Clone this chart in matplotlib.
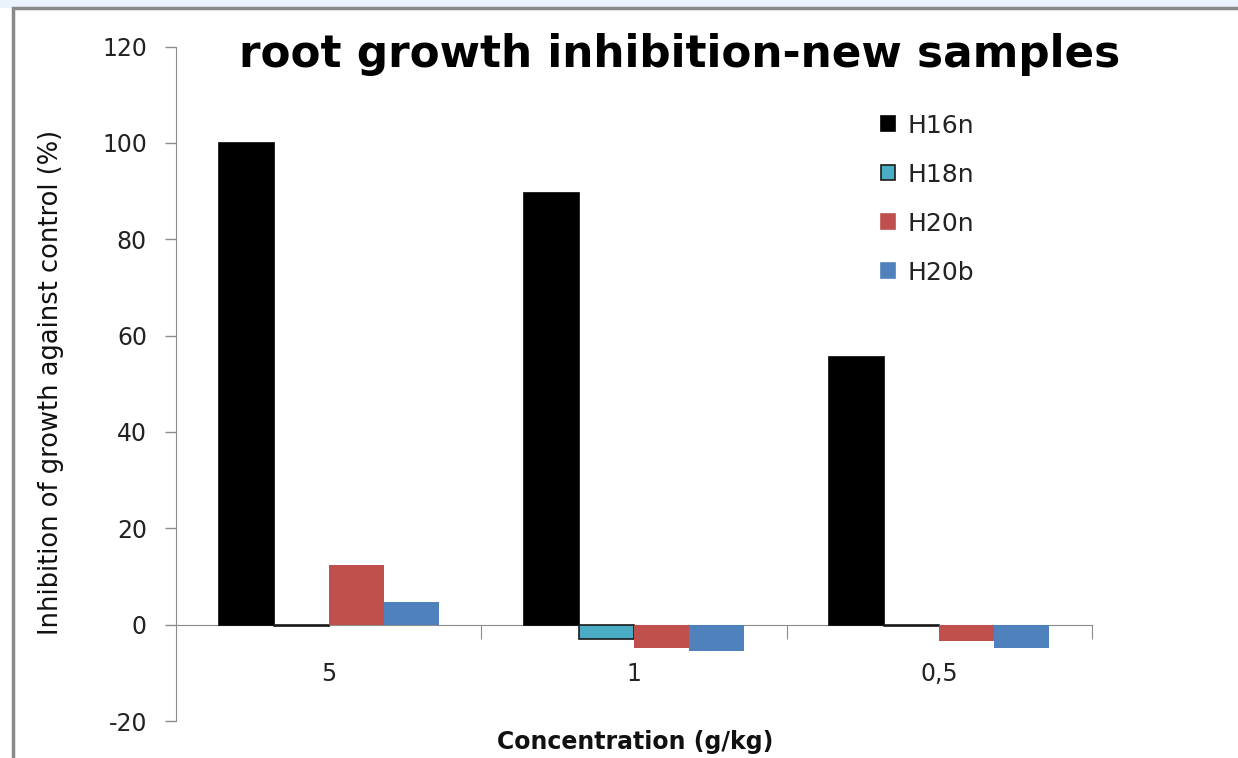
import numpy as np
import matplotlib
matplotlib.use("Agg")
import matplotlib.pyplot as plt
from matplotlib.patches import Rectangle, Patch

plt.rcParams['font.family'] = ['DejaVu Sans']

categories = ['5', '1', '0,5']
series = ['H16n', 'H18n', 'H20n', 'H20b']
h16n = [100.0, 89.5, 55.5]
h18n = [-0.3, -2.9, -0.3]
h20n = [12.4, -4.8, -3.3]
h20b = [4.6, -5.4, -4.8]
values = [h16n, h18n, h20n, h20b]
colors = ['#000000', '#4BACC6', '#C0504D', '#4F81BD']
edges = ['#000000', '#1a1a1a', 'none', 'none']

fig = plt.figure(figsize=(12.38, 7.58), dpi=100, facecolor='white')

# page background strip and chart frame
fig.patches.append(Rectangle((0, 0.99), 1, 0.01, transform=fig.transFigure,
                             facecolor='#eaf2fb', edgecolor='none', zorder=-2))
fig.patches.append(Rectangle((0.0105, -0.01), 1.0, 0.9997, transform=fig.transFigure,
                             facecolor='white', edgecolor='#8a8a8a', lw=2.5, zorder=-1))

ax = fig.add_axes([0.1422, 0.0488, 0.7398, 0.8898])
ax.set_facecolor('none')

x = np.arange(len(categories))
w = 0.18
for i, (vals, c, e) in enumerate(zip(values, colors, edges)):
    ax.bar(x + (i - 1.5) * w, vals, width=w, color=c,
           edgecolor=e, linewidth=1.2 if e != 'none' else 0, label=series[i], zorder=3)

ax.set_xlim(-0.5, 2.5)
ax.set_ylim(-20, 120)
ax.set_yticks(np.arange(-20, 121, 20))
ax.set_yticklabels([str(v) for v in range(-20, 121, 20)])
ax.tick_params(axis='y', direction='out', length=8, width=1, color='#8c8c8c',
               labelsize=17, labelcolor='#222222', pad=13)

ax.spines['top'].set_visible(False)
ax.spines['right'].set_visible(False)
ax.spines['left'].set_color('#8c8c8c')
ax.spines['bottom'].set_position(('data', 0))
ax.spines['bottom'].set_color('#8c8c8c')

ax.set_xticks([0.5, 1.5, 2.5])
ax.set_xticklabels([])
ax.set_xticks(x, minor=True)
ax.set_xticklabels(categories, minor=True)
ax.tick_params(axis='x', which='major', direction='out', length=10, color='#8c8c8c')
ax.tick_params(axis='x', which='minor', length=0, labelsize=17, labelcolor='#222222', pad=27)

ax.set_ylabel('Inhibition of growth against control (%)', fontsize=18.5, color='#111111')
ax.yaxis.set_label_coords(-0.122, 0.502)
fig.text(0.513, 0.021, 'Concentration (g/kg)', ha='center', va='center',
         fontsize=17, fontweight='bold', color='#111111')
fig.text(0.549, 0.928, 'root growth inhibition-new samples', ha='center', va='center',
         fontsize=31.5, fontweight='bold', color='#000000')

handles = [Patch(facecolor=c, edgecolor=(e if e != 'none' else c), lw=1.2) for c, e in zip(colors, edges)]
ax.legend(handles, series, loc='upper left', bbox_to_anchor=(0.745, 0.934), frameon=False,
          fontsize=18, labelspacing=1.0, handlelength=0.55, handleheight=0.55, handletextpad=0.5,
          labelcolor='#222222')

fig.savefig('out.png', dpi=100, facecolor='white')
